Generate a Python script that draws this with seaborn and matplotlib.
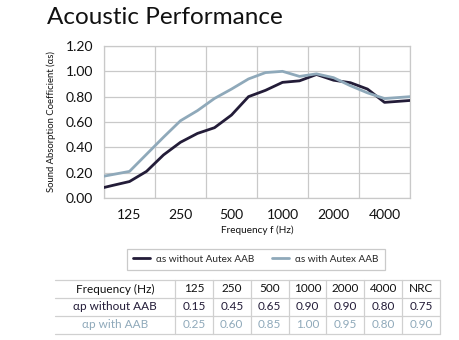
import matplotlib
matplotlib.use("Agg")
import matplotlib.pyplot as plt
import seaborn as sns
import numpy as np
import pandas as pd
from matplotlib import font_manager
from matplotlib.lines import Line2D

# ---------------- data ----------------
freqs_hz = [80, 100, 125, 160, 200, 250, 315, 400, 500, 630, 800, 1000,
            1250, 1600, 2000, 2500, 3150, 4000, 5000, 6300]
alpha_without = [0.067, 0.099, 0.13, 0.21, 0.34, 0.44, 0.51, 0.555, 0.655, 0.80,
                 0.85, 0.913, 0.925, 0.975, 0.93, 0.91, 0.86, 0.755, 0.765, 0.775]
alpha_with = [0.16, 0.185, 0.21, 0.345, 0.48, 0.61, 0.69, 0.786, 0.86, 0.94,
              0.99, 1.00, 0.96, 0.98, 0.95, 0.886, 0.83, 0.785, 0.795, 0.805]
octave_labels = ["125", "250", "500", "1000", "2000", "4000"]
y_ticks = [0.0, 0.2, 0.4, 0.6, 0.8, 1.0, 1.2]

series_names = ["\u03b1s without Autex AAB", "\u03b1s with Autex AAB"]

table_header = ["Frequency (Hz)", "125", "250", "500", "1000", "2000", "4000", "NRC"]
table_row_without = ["\u03b1p without AAB", "0.15", "0.45", "0.65", "0.90", "0.90", "0.80", "0.75"]
table_row_with = ["\u03b1p with AAB", "0.25", "0.60", "0.85", "1.00", "0.95", "0.80", "0.90"]

# ---------------- style ----------------
DARK = "#231c38"
LIGHT = "#8fa9ba"
GRID = "#c9c9c9"

sns.set_style("white")
avail = {f.name for f in font_manager.fontManager.ttflist}
main_font = "Lato" if "Lato" in avail else "DejaVu Sans"
narrow_font = "Liberation Sans Narrow" if "Liberation Sans Narrow" in avail else main_font
plt.rcParams["font.family"] = [main_font, "DejaVu Sans"]

fig = plt.figure(figsize=(4.6, 3.4), dpi=100)
W, H = 460, 340

def fig_rect(x0, y0, x1, y1):
    return [x0 / W, 1 - y1 / H, (x1 - x0) / W, (y1 - y0) / H]

ax = fig.add_axes(fig_rect(104, 46, 410, 198))

# position of each band in octaves relative to 125 Hz (nominal 1/3-octave index)
f = np.array(freqs_hz, dtype=float)
pos = np.round(3 * np.log2(f / 125.0)) / 3.0
df = pd.DataFrame({
    "pos": np.concatenate([pos, pos]),
    "alpha": alpha_without + alpha_with,
    "series": [series_names[0]] * len(pos) + [series_names[1]] * len(pos),
})
sns.lineplot(data=df, x="pos", y="alpha", hue="series",
             palette={series_names[0]: DARK, series_names[1]: LIGHT},
             linewidth=2.0, ax=ax, legend=False, sort=False, zorder=3)

ax.set_xlim(-0.5, len(octave_labels) - 0.5)
ax.set_ylim(0, 1.2)
ax.set_xticks(np.arange(len(octave_labels)))
ax.set_xticklabels(octave_labels)
ax.set_xticks(np.arange(len(octave_labels) + 1) - 0.5, minor=True)
ax.set_yticks(y_ticks)
ax.set_yticklabels([f"{v:.2f}" for v in y_ticks])
ax.tick_params(axis="x", which="major", length=0, pad=8, labelsize=10, colors="#111111")
ax.tick_params(axis="x", which="minor", length=5, width=0.8, color=GRID)
ax.tick_params(axis="y", length=5, width=0.8, color=GRID, pad=3, labelsize=10, labelcolor="#111111")
ax.grid(False)
ax.grid(True, axis="x", which="minor", color=GRID, linewidth=0.9)
ax.grid(True, axis="y", which="major", color=GRID, linewidth=0.9)
for s in ax.spines.values():
    s.set_color(GRID)
    s.set_linewidth(0.9)

ax.set_xlabel("Frequency f (Hz)", family=narrow_font, fontsize=7.2, labelpad=3, color="#111111")
ax.set_ylabel("Sound Absorption Coefficient (\u03b1s)", family=narrow_font, fontsize=6.8,
              labelpad=7, color="#111111")

fig.text(47 / W, 1 - 17 / H, "Acoustic Performance", fontsize=17.5, fontweight="normal",
         va="center", ha="left", color="#111111")

# ---------------- legend ----------------
handles = [Line2D([], [], color=DARK, linewidth=2.0), Line2D([], [], color=LIGHT, linewidth=2.0)]
leg = fig.legend(handles, series_names, loc="center", bbox_to_anchor=(256 / W, 1 - 259 / H),
                 ncol=2, frameon=True, fancybox=False, edgecolor="#bdbdbd",
                 handlelength=1.7, handletextpad=0.6, columnspacing=1.8,
                 borderpad=0.6, borderaxespad=0.0, prop={"family": narrow_font, "size": 7.2})
leg.get_frame().set_linewidth(0.9)

# ---------------- table ----------------
tx0, tx1 = 55, 440
ty0, ty1 = 280, 334
tax = fig.add_axes(fig_rect(tx0, ty0, tx1, ty1))
tax.set_xlim(tx0, tx1)
tax.set_ylim(ty1, ty0)
tax.axis("off")
first_w = 120
ncols = len(table_header) - 1
col_w = (tx1 - tx0 - first_w) / ncols
edges = [tx0, tx0 + first_w] + [tx0 + first_w + col_w * (i + 1) for i in range(ncols)]
row_h = (ty1 - ty0) / 3
for r in range(4):
    tax.plot([tx0, tx1], [ty0 + r * row_h] * 2, color="#d0d0d0", lw=0.9, clip_on=False)
for e in edges[1:]:
    tax.plot([e, e], [ty0, ty1], color="#d0d0d0", lw=0.9, clip_on=False)
rows = [(table_header, "#111111"), (table_row_without, DARK), (table_row_with, LIGHT)]
for r, (vals, col) in enumerate(rows):
    yc = ty0 + (r + 0.5) * row_h
    for c, v in enumerate(vals):
        xc = (edges[c] + edges[c + 1]) / 2
        tax.text(xc, yc, v, ha="center", va="center", fontsize=8.5, color=col)

fig.savefig("out.png", dpi=100)
